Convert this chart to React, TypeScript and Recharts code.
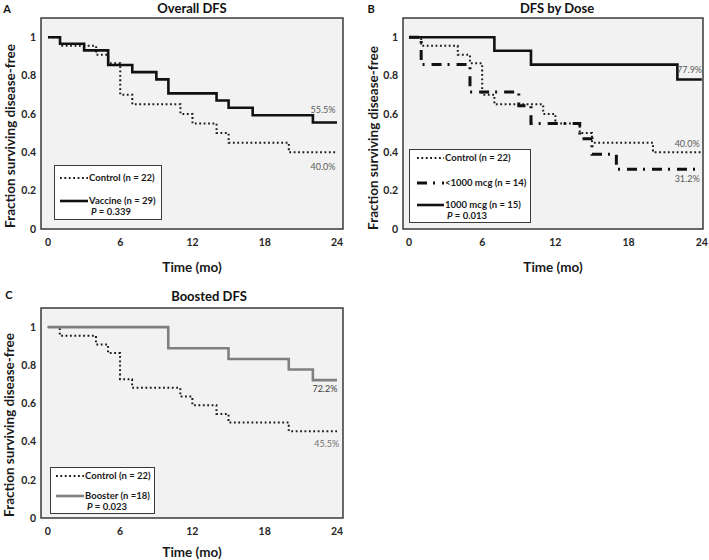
import React from 'react';
import {
  LineChart,
  Line,
  XAxis,
  YAxis,
  CartesianGrid,
  ReferenceArea,
  ReferenceDot,
  Legend,
  Label,
} from 'recharts';

const FONT = 'Lato, "Open Sans", sans-serif';

const monthTicks = [0, 6, 12, 18, 24];
const fractionTicks = [0, 0.2, 0.4, 0.6, 0.8, 1];

// A - overall
const controlMonths = [0, 1, 4, 5, 6, 7, 11, 12, 14, 15, 20, 24];
const controlSurv = [1, 0.955, 0.909, 0.864, 0.7, 0.65, 0.6, 0.55, 0.5, 0.45, 0.4, 0.4];
const vaccineMonths = [0, 1, 3, 5, 7, 9, 10, 14, 15, 17, 22, 24];
const vaccineSurv = [1, 0.966, 0.931, 0.855, 0.818, 0.78, 0.707, 0.67, 0.632, 0.593, 0.555, 0.555];

// B - by dose
const lowDoseMonths = [0, 1, 5, 9, 10, 14, 15, 17, 24];
const lowDoseSurv = [1, 0.857, 0.714, 0.643, 0.55, 0.471, 0.39, 0.312, 0.312];
const highDoseMonths = [0, 7, 10, 22, 24];
const highDoseSurv = [1, 0.929, 0.857, 0.779, 0.779];

// C - boosted
const controlCMonths = [0, 1, 4, 5, 6, 7, 11, 12, 14, 15, 20, 24];
const controlCSurv = [1, 0.955, 0.909, 0.864, 0.727, 0.682, 0.636, 0.591, 0.545, 0.5, 0.455, 0.455];
const boosterMonths = [0, 10, 15, 20, 22, 24];
const boosterSurv = [1, 0.889, 0.833, 0.778, 0.722, 0.722];

const toPoints = (months: number[], surv: number[]) => months.map((t, i) => ({ t, s: surv[i] }));

const DOTTED = { color: '#1a1a1a', width: 2, dash: '1.8 2.6' };
const SOLID = { color: '#111', width: 2.6, dash: undefined };
const DASHDOT = { color: '#111', width: 3, dash: '10 6 2 7' };
const GREY = { color: '#808080', width: 2.6, dash: undefined };

type Style = { color: string; width: number; dash?: string };
type Series = { key: string; points: { t: number; s: number }[]; style: Style };
type Note = { x: number; y: number; text: string; color: string };
type Row = { label: string; style: Style; y: number };

function LegendBox({ rows, p, pY, width, height, sampleX, sampleW }: any) {
  return (
    <div
      style={{
        position: 'relative',
        width,
        height,
        boxSizing: 'border-box',
        border: '1px solid #3a3a3a',
        background: '#fff',
        fontFamily: FONT,
        fontWeight: 700,
        fontSize: 9.5,
        lineHeight: '10px',
        color: '#1a1a1a',
      }}
    >
      {rows.map((r: Row) => (
        <div
          key={r.label}
          style={{ position: 'absolute', left: sampleX, top: r.y - 5, height: 10, display: 'flex', alignItems: 'center', whiteSpace: 'nowrap' }}
        >
          <svg width={sampleW} height={10} style={{ display: 'block' }}>
            <line x1={0} y1={5} x2={sampleW} y2={5} stroke={r.style.color} strokeWidth={r.style.width} strokeDasharray={r.style.dash} />
          </svg>
          <span style={{ marginLeft: 1 }}>{r.label}</span>
        </div>
      ))}
      <div style={{ position: 'absolute', left: sampleX + sampleW + 3, top: pY - 5, height: 10, whiteSpace: 'nowrap' }}>
        <i>P</i> = {p}
      </div>
    </div>
  );
}

function KMPanel(props: any) {
  const {
    left, top, width, height, margin, yAxisWidth, xAxisHeight, xDomain,
    series, notes, legend, title, titleX, titleY, letter, letterX, letterY,
    yTitleX, yTitleY, xTitleOffset,
  } = props;
  const tickStyle = { fill: '#262626', fontSize: 10.5, fontWeight: 700, fontFamily: FONT };
  return (
    <div style={{ position: 'absolute', left, top, width, height }}>
      <LineChart width={width} height={height} margin={margin}>
        <CartesianGrid fill="#f2f2f2" horizontal={false} vertical={false} />
        <ReferenceArea
          x1={xDomain[0]}
          x2={xDomain[1]}
          y1={0}
          y2={1.1}
          fill="none"
          stroke="#3a3a3a"
          strokeWidth={1.5}
          ifOverflow="visible"
        />
        <XAxis
          type="number"
          dataKey="t"
          domain={xDomain}
          ticks={monthTicks}
          allowDataOverflow
          axisLine={false}
          tickLine={false}
          tickSize={0}
          tickMargin={10}
          height={xAxisHeight}
          tick={tickStyle}
        >
          <Label
            value="Time (mo)"
            position="insideBottom"
            offset={xTitleOffset}
            style={{ fontSize: 13.5, fontWeight: 700, fontFamily: FONT, fill: '#1a1a1a' }}
          />
        </XAxis>
        <YAxis
          type="number"
          domain={[0, 1.1]}
          ticks={fractionTicks}
          allowDataOverflow
          axisLine={false}
          tickLine={false}
          tickSize={0}
          tickMargin={5}
          width={yAxisWidth}
          tick={tickStyle}
        >
          <Label
            content={() => (
              <text
                x={yTitleX}
                y={yTitleY}
                transform={`rotate(-90 ${yTitleX} ${yTitleY})`}
                textAnchor="middle"
                dominantBaseline="central"
                style={{ fontSize: 13.5, fontWeight: 700, fontFamily: FONT, fill: '#1a1a1a' }}
              >
                Fraction surviving disease-free
              </text>
            )}
          />
        </YAxis>
        {series.map((s: Series) => (
          <Line
            key={s.key}
            data={s.points}
            dataKey="s"
            type="stepAfter"
            stroke={s.style.color}
            strokeWidth={s.style.width}
            strokeDasharray={s.style.dash}
            strokeLinecap="butt"
            dot={false}
            activeDot={false}
            isAnimationActive={false}
          />
        ))}
        {notes.map((n: Note) => (
          <ReferenceDot
            key={n.text + n.y}
            x={n.x}
            y={n.y}
            r={0}
            fill="none"
            stroke="none"
            ifOverflow="visible"
            label={{ value: n.text, position: 'center', fill: n.color, fontSize: 9, fontFamily: FONT }}
          />
        ))}
        <Legend
          layout="vertical"
          align="center"
          verticalAlign="middle"
          wrapperStyle={{ position: 'absolute', left: legend.left, top: legend.top, width: legend.width, height: legend.height }}
          content={() => <LegendBox {...legend} />}
        />
      </LineChart>
      <div
        style={{
          position: 'absolute', left: titleX - 80, top: titleY - 9, width: 160, textAlign: 'center',
          fontFamily: FONT, fontWeight: 700, fontSize: 13, lineHeight: '18px', color: '#111',
        }}
      >
        {title}
      </div>
      <div
        style={{
          position: 'absolute', left: letterX - 6, top: letterY - 8, width: 12, textAlign: 'center',
          fontFamily: FONT, fontWeight: 700, fontSize: 11, lineHeight: '16px', color: '#111',
        }}
      >
        {letter}
      </div>
    </div>
  );
}

export default function App() {
  return (
    <div style={{ position: 'absolute', left: 0, top: 0, width: 709, height: 560, background: '#fff', overflow: 'hidden' }}>
      <KMPanel
        left={0}
        top={0}
        width={354}
        height={280}
        margin={{ top: 18, right: 11, left: 0, bottom: 0 }}
        yAxisWidth={41}
        xAxisHeight={51}
        xDomain={[-0.58, 24.5]}
        series={[
          { key: 'control', points: toPoints(controlMonths, controlSurv), style: DOTTED },
          { key: 'vaccine', points: toPoints(vaccineMonths, vaccineSurv), style: SOLID },
        ]}
        notes={[
          { x: 22.84, y: 0.623, text: '55.5%', color: '#5a5a5a' },
          { x: 22.84, y: 0.325, text: '40.0%', color: '#5a5a5a' },
        ]}
        legend={{
          left: 54, top: 165, width: 108, height: 55, sampleX: 5, sampleW: 28,
          rows: [
            { label: 'Control (n = 22)', style: DOTTED, y: 12 },
            { label: 'Vaccine (n = 29)', style: SOLID, y: 35 },
          ],
          p: '0.339', pY: 46,
        }}
        title="Overall DFS"
        titleX={192}
        titleY={8}
        letter="A"
        letterX={7}
        letterY={9}
        yTitleX={10}
        yTitleY={136}
        xTitleOffset={8}
      />
      <KMPanel
        left={354}
        top={0}
        width={355}
        height={280}
        margin={{ top: 18, right: 6, left: 0, bottom: 0 }}
        yAxisWidth={49}
        xAxisHeight={51}
        xDomain={[-0.49, 24.1]}
        series={[
          { key: 'control', points: toPoints(controlMonths, controlSurv), style: DOTTED },
          { key: 'low', points: toPoints(lowDoseMonths, lowDoseSurv), style: DASHDOT },
          { key: 'high', points: toPoints(highDoseMonths, highDoseSurv), style: SOLID },
        ]}
        notes={[
          { x: 23.0, y: 0.832, text: '77.9%', color: '#5a5a5a' },
          { x: 22.8, y: 0.445, text: '40.0%', color: '#5a5a5a' },
          { x: 22.8, y: 0.26, text: '31.2%', color: '#5a5a5a' },
        ]}
        legend={{
          left: 55, top: 149, width: 122, height: 74, sampleX: 7, sampleW: 27,
          rows: [
            { label: 'Control (n = 22)', style: DOTTED, y: 8 },
            { label: '<1000 mcg (n = 14)', style: DASHDOT, y: 33 },
            { label: '1000 mcg (n = 15)', style: SOLID, y: 55 },
          ],
          p: '0.013', pY: 66,
        }}
        title="DFS by Dose"
        titleX={203}
        titleY={8}
        letter="B"
        letterX={17}
        letterY={9}
        yTitleX={19}
        yTitleY={138}
        xTitleOffset={8}
      />
      <KMPanel
        left={0}
        top={280}
        width={354}
        height={280}
        margin={{ top: 28, right: 11, left: 0, bottom: 0 }}
        yAxisWidth={41}
        xAxisHeight={42}
        xDomain={[-0.56, 24.5]}
        series={[
          { key: 'control', points: toPoints(controlCMonths, controlCSurv), style: DOTTED },
          { key: 'booster', points: toPoints(boosterMonths, boosterSurv), style: GREY },
        ]}
        notes={[
          { x: 23.0, y: 0.675, text: '72.2%', color: '#404040' },
          { x: 23.15, y: 0.39, text: '45.5%', color: '#707070' },
        ]}
        legend={{
          left: 50, top: 187, width: 105, height: 47, sampleX: 5, sampleW: 28,
          rows: [
            { label: 'Control (n = 22)', style: DOTTED, y: 8 },
            { label: 'Booster (n =18)', style: GREY, y: 28 },
          ],
          p: '0.023', pY: 39,
        }}
        title="Boosted DFS"
        titleX={209}
        titleY={16}
        letter="C"
        letterX={9}
        letterY={15}
        yTitleX={9}
        yTitleY={145}
        xTitleOffset={3}
      />
    </div>
  );
}
